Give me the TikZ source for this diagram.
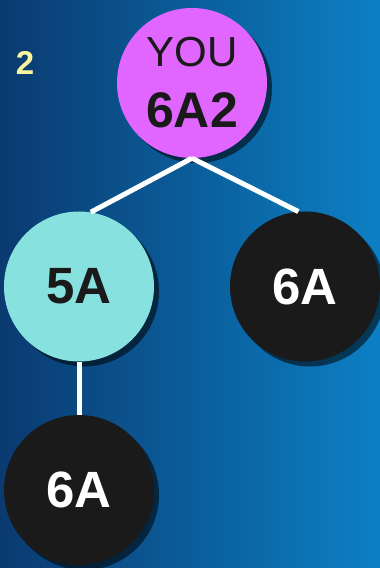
\documentclass[tikz,border=0pt]{standalone}
\usepackage{fontspec}
\setmainfont{Liberation Sans}
\usepackage{xcolor}
\usepackage{tikz}
\usetikzlibrary{positioning,%
  trees,%
  shadows
}

\definecolor{hgLinks}{RGB}{10,58,112}
\definecolor{hgRechts}{RGB}{12,128,196}
\definecolor{lila}{RGB}{224,102,255}
\definecolor{tuerkis}{RGB}{134,225,223}
\definecolor{dunkel}{RGB}{26,26,26}
\definecolor{zweiGelb}{RGB}{250,246,160}

\begin{document}
\begin{tikzpicture}
                    [
                        x=1pt, y=1pt,
                        knoten/.style={circle, minimum size=150pt, inner sep=0pt,
                            font=\bfseries\fontsize{51}{51}\selectfont,
                            drop shadow={shadow xshift=5pt, shadow yshift=-5pt, fill=black, opacity=.55}},
                        every child node/.style={knoten},
                        edge from parent/.style={draw=white, line width=5pt},
                        parent anchor=south, child anchor=north,
                        level distance=203.5pt,
                        level 1/.style={sibling distance=226pt}
                    ]
                    
                    % Hintergrund
                    \shade[left color=hgLinks, right color=hgRechts] (0,0) rectangle (380,568);
                    \clip (0,0) rectangle (380,568);
                    
                    \node[text=zweiGelb, font=\bfseries\fontsize{33}{33}\selectfont] (nummer) at (25,505) {2};
                    
                    \node[knoten, fill=lila, text=dunkel, align=center,
                          font=\fontsize{42}{61}\selectfont] (you) at (192,485)
                          {YOU\\{\bfseries\fontsize{50}{61}\selectfont 6A2}}
                        child[child anchor=81] {node[fill=tuerkis, text=dunkel] (fuenfA) {5A}
                            child[child anchor=north] {node[fill=dunkel, text=white] (sechsAunten) {6A}}}
                        child[child anchor=95] {node[fill=dunkel, text=white] (sechsA) {6A}};
                \end{tikzpicture}
\end{document}
